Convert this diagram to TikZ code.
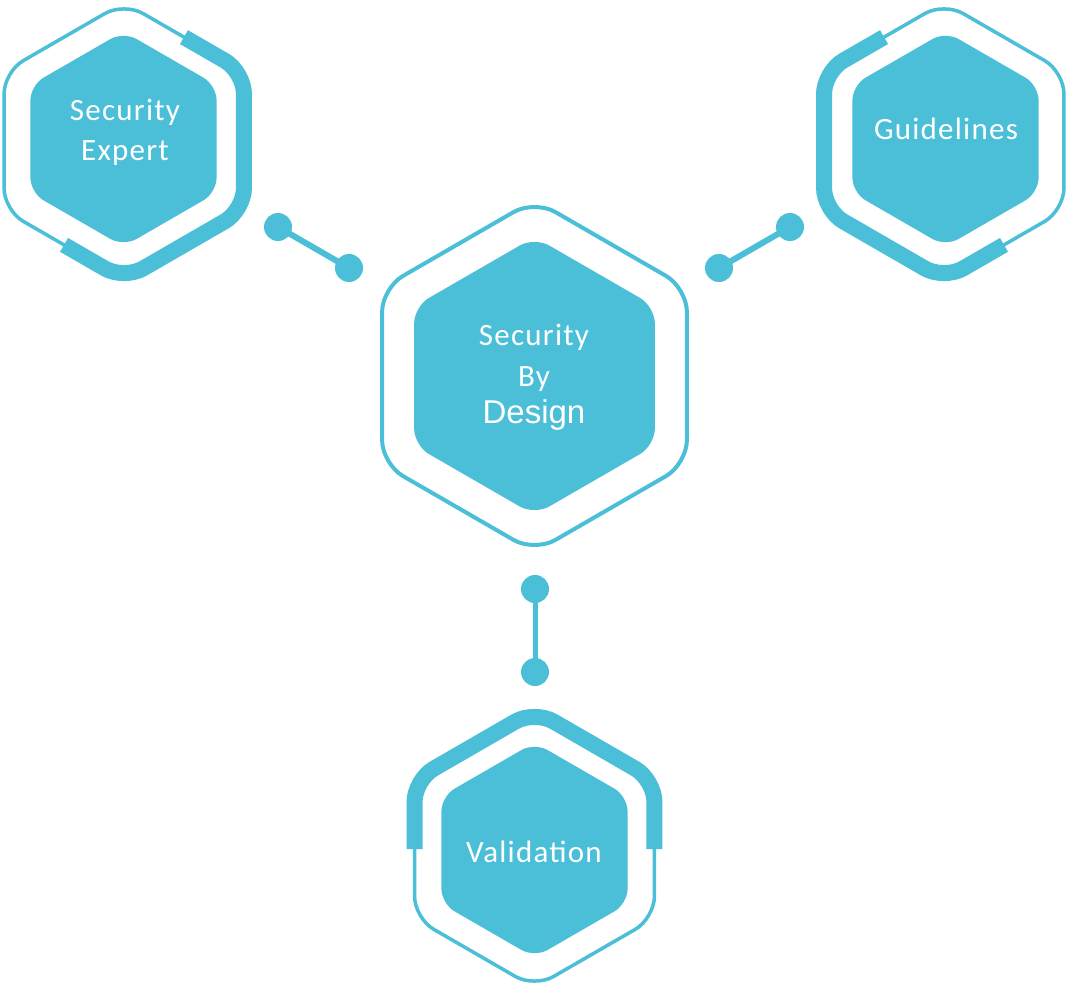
\documentclass[tikz,border=0pt]{standalone}
\usepackage{fontspec}
\setmainfont{Carlito}
\newfontfamily\labfont[LetterSpace=4]{Carlito}
\newfontfamily\desfont{Liberation Sans}
\definecolor{hexblue}{HTML}{4BBFD8}
\tikzset{
  outline/.style={draw=hexblue, line width=3.5pt},
  thickband/.style={draw=hexblue, line width=16pt, line cap=butt},
  innerhex/.style={fill=hexblue},
  lab/.style={text=white, font=\fontsize{31}{37}\labfont, inner sep=0pt, anchor=base},
  deslab/.style={text=white, font=\fontsize{33}{39}\desfont, inner sep=0pt, anchor=base},
  dot/.style={circle, fill=hexblue, minimum size=28pt, inner sep=0pt},
  conn/.style={draw=hexblue, line width=6pt}
}
\begin{document}
\begin{tikzpicture}[x=1pt, y=-1pt]
\useasboundingbox (0,0) rectangle (1068,984);
\fill[white] (0,0) rectangle (1068,984);

% ---------- Security Expert ----------
\begin{scope}[shift={(124,141)}, scale=138.5]
  \draw[outline, rounded corners=22pt] (0,-1) -- (0.866,-0.5) -- (0.866,0.5) -- (0,1) -- (-0.866,0.5) -- (-0.866,-0.5) -- cycle;
  \draw[thickband, rounded corners=22pt] (0.433,-0.75) -- (0.866,-0.5) -- (0.866,0.5) -- (0,1) -- (-0.433,0.75);
\end{scope}
\begin{scope}[shift={(123.5,139)}, scale=107.5]
  \fill[innerhex, rounded corners=15pt] (0,-1) -- (0.866,-0.5) -- (0.866,0.5) -- (0,1) -- (-0.866,0.5) -- (-0.866,-0.5) -- cycle;
\end{scope}
\node[lab] (se1) at (125,121) {Security};
\node[lab] (se2) at (125,161) {Expert};

% ---------- Guidelines ----------
\begin{scope}[shift={(944,141)}, scale=138.5]
  \draw[outline, rounded corners=22pt] (0,-1) -- (0.866,-0.5) -- (0.866,0.5) -- (0,1) -- (-0.866,0.5) -- (-0.866,-0.5) -- cycle;
  \draw[thickband, rounded corners=22pt] (-0.433,-0.75) -- (-0.866,-0.5) -- (-0.866,0.5) -- (0,1) -- (0.433,0.75);
\end{scope}
\begin{scope}[shift={(945.5,139)}, scale=107.5]
  \fill[innerhex, rounded corners=15pt] (0,-1) -- (0.866,-0.5) -- (0.866,0.5) -- (0,1) -- (-0.866,0.5) -- (-0.866,-0.5) -- cycle;
\end{scope}
\node[lab] (gl) at (946,140) {Guidelines};

% ---------- Security By Design ----------
\begin{scope}[shift={(534.5,376)}, scale=176]
  \draw[outline, line width=4pt, rounded corners=24pt] (0,-1) -- (0.866,-0.5) -- (0.866,0.5) -- (0,1) -- (-0.866,0.5) -- (-0.866,-0.5) -- cycle;
\end{scope}
\begin{scope}[shift={(534.5,376)}, scale=139]
  \fill[innerhex, rounded corners=17pt] (0,-1) -- (0.866,-0.5) -- (0.866,0.5) -- (0,1) -- (-0.866,0.5) -- (-0.866,-0.5) -- cycle;
\end{scope}
\node[lab] (sb1) at (534,345) {Security};
\node[lab] (sb2) at (534,386) {By};
\node[deslab] (sb3) at (534,423) {Design};

% ---------- Validation ----------
\begin{scope}[shift={(534.5,849)}, scale=138.5]
  \draw[outline, rounded corners=22pt] (0,-1) -- (0.866,-0.5) -- (0.866,0.5) -- (0,1) -- (-0.866,0.5) -- (-0.866,-0.5) -- cycle;
  \draw[thickband, rounded corners=22pt] (-0.866,0) -- (-0.866,-0.5) -- (0,-1) -- (0.866,-0.5) -- (0.866,0);
\end{scope}
\begin{scope}[shift={(534.5,850)}, scale=107.5]
  \fill[innerhex, rounded corners=15pt] (0,-1) -- (0.866,-0.5) -- (0.866,0.5) -- (0,1) -- (-0.866,0.5) -- (-0.866,-0.5) -- cycle;
\end{scope}
\node[lab] (va) at (534,862) {Validation};

% ---------- Connectors ----------
\node[dot] (l1) at (278,227) {};
\node[dot] (l2) at (349,268) {};
\node[dot] (r1) at (790,227) {};
\node[dot] (r2) at (719,268) {};
\node[dot] (b1) at (535,589) {};
\node[dot] (b2) at (535,672) {};
\draw[conn] (l1.center) -- (l2.center);
\draw[conn] (r1.center) -- (r2.center);
\draw[conn, line width=5pt] (b1.center) -- (b2.center);
\end{tikzpicture}
\end{document}
